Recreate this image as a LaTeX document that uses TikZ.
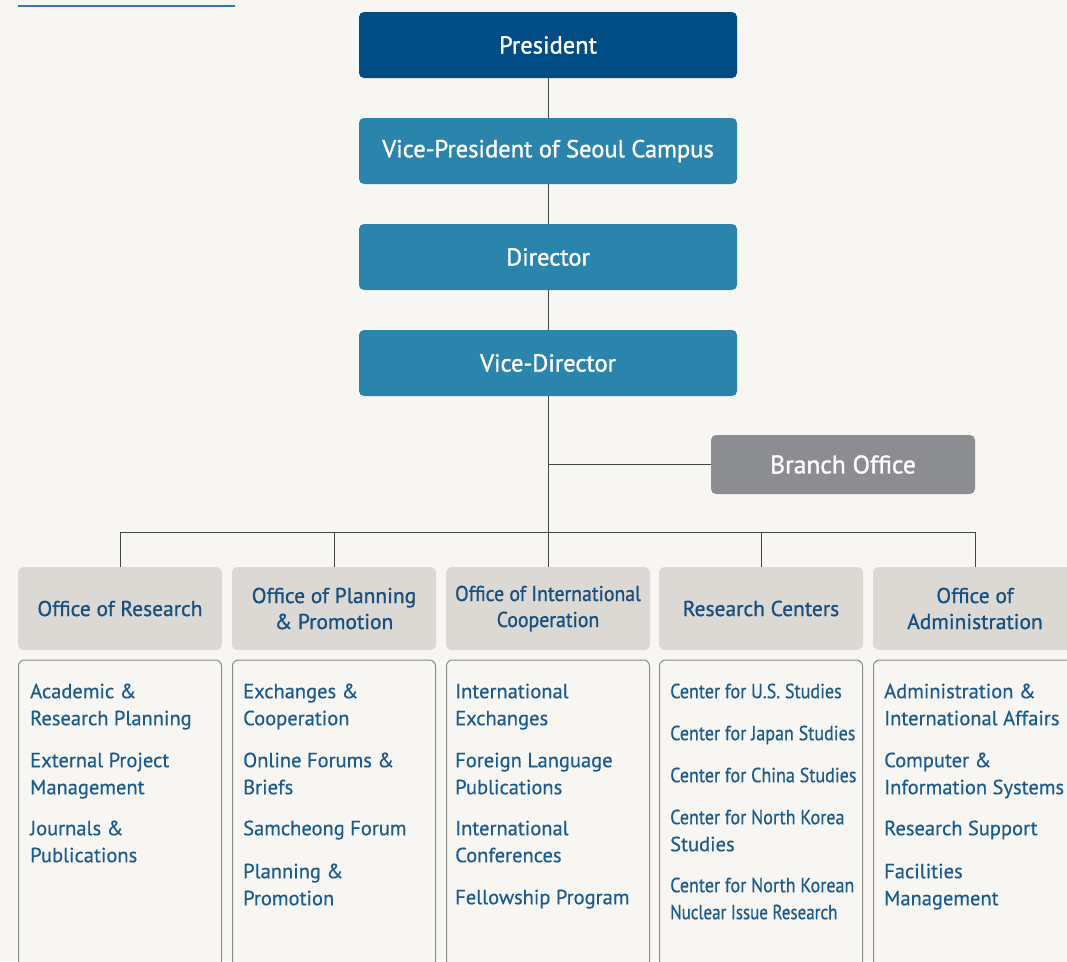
\documentclass[tikz,border=0pt]{standalone}
\usepackage{fontspec}
\setmainfont{PT Sans}
\newfontfamily\topfont[FakeBold=1.3]{PT Sans}
\newfontfamily\hdrfont[FakeBold=0.9]{PT Sans}
\newfontfamily\hdrcondfont[FakeBold=0.9,FakeStretch=0.92]{PT Sans}
\newfontfamily\listfont[FakeBold=0.4]{PT Sans}
\newfontfamily\condfont[FakeBold=0.4,FakeStretch=0.88]{PT Sans}
\newfontfamily\tightfont[FakeBold=0.4,FakeStretch=0.83]{PT Sans}
\definecolor{bg}{HTML}{F7F6F2}
\definecolor{presblue}{HTML}{004C84}
\definecolor{midblue}{HTML}{2B84AB}
\definecolor{branchgray}{HTML}{8C8D91}
\definecolor{hdrfill}{HTML}{DCD8D4}
\definecolor{hdrtext}{HTML}{17507F}
\definecolor{listtext}{HTML}{1A5A8C}
\definecolor{linecol}{HTML}{444444}
\definecolor{boxline}{HTML}{8A8A8A}
\definecolor{topline}{HTML}{2F77C0}
\tikzset{
  topbox/.style={rounded corners=5pt, minimum width=378pt, minimum height=66pt,
    text=white, inner sep=0pt, font=\topfont\fontsize{24.5}{28}\selectfont},
  branchbox/.style={rounded corners=5pt, minimum width=264pt, minimum height=59pt,
    fill=branchgray, text=white, inner sep=0pt, font=\topfont\fontsize{25.5}{28}\selectfont},
  hdrbox/.style={rounded corners=6pt, minimum width=204pt, minimum height=83pt,
    fill=hdrfill, text=hdrtext, inner sep=0pt, align=center,
    font=\hdrfont\fontsize{21.5}{26}\selectfont},
  listbox/.style={rounded corners=6pt, minimum width=203pt, minimum height=340pt,
    draw=boxline, line width=1pt, fill=bg, inner sep=0pt},
  itemtext/.style={anchor=north west, inner sep=0pt, align=left, text=listtext,
    font=\listfont\fontsize{20.5}{27}\selectfont},
  conn/.style={draw=linecol, line width=1pt}
}
\newcommand\li[4]{\node[itemtext] (#1) at (#2,#3-18.9) {\strut #4};}
\newcommand\lic[4]{\node[itemtext] (#1) at (#2,#3-18.9) {\strut\condfont #4};}
\begin{document}
\begin{tikzpicture}[x=1pt,y=-1pt]
\useasboundingbox (0,0) rectangle (1067,961);
\clip (0,0) rectangle (1067,961);
\fill[bg] (0,0) rectangle (1067,961);
\coordinate (tl1) at (18,6);
\coordinate (tl2) at (235,6);
\draw[topline, line width=2pt] (tl1) -- (tl2);

\node[topbox, fill=presblue] (pres) at (548,45) {President};
\node[topbox, fill=midblue] (vp) at (548,151) {Vice-President of Seoul Campus};
\node[topbox, fill=midblue] (dir) at (548,257) {Director};
\node[topbox, fill=midblue] (vdir) at (548,363) {Vice-Director};
\node[branchbox] (branch) at (843,464.5) {Branch Office};

\node[hdrbox] (h1) at (120,608.5) {Office of Research};
\node[hdrbox] (h2) at (334,608.5) {Office of Planning\\\& Promotion};
\node[hdrbox, font=\hdrcondfont\fontsize{21.5}{26}\selectfont] (h3) at (548,608.5) {Office of International\\Cooperation};
\node[hdrbox] (h4) at (761,608.5) {Research Centers};
\node[hdrbox] (h5) at (975,608.5) {Office of\\Administration};

\coordinate (bus) at (0,532);
\draw[conn] (pres) -- (vp);
\draw[conn] (vp) -- (dir);
\draw[conn] (dir) -- (vdir);
\draw[conn] (vdir) -- (h3);
\draw[conn] (vdir.south |- branch.west) -- (branch.west);
\draw[conn] (h1.north) -- (h1.north |- bus) -- (h5.north |- bus) -- (h5.north);
\draw[conn] (h2.north) -- (h2.north |- bus);
\draw[conn] (h4.north) -- (h4.north |- bus);

\node[listbox] (b1) at (120,830) {};
\node[listbox] (b2) at (334,830) {};
\node[listbox] (b3) at (548,830) {};
\node[listbox] (b4) at (761,830) {};
\node[listbox] (b5) at (975,830) {};

\li{a1}{30}{698}{Academic \&\\Research Planning}
\li{a2}{30}{767}{External Project\\Management}
\li{a3}{30}{835}{Journals \&\\Publications}

\li{p1}{243}{698}{Exchanges \&\\Cooperation}
\li{p2}{243}{767}{Online Forums \&\\Briefs}
\li{p3}{243}{835}{Samcheong Forum}
\li{p4}{243}{878}{Planning \&\\Promotion}

\li{c1}{455}{698}{International\\Exchanges}
\li{c2}{455}{767}{Foreign Language\\Publications}
\li{c3}{455}{835}{International\\Conferences}
\li{c4}{455}{904}{Fellowship Program}

\lic{r1}{670}{698}{Center for U.S. Studies}
\lic{r2}{670}{740}{Center for Japan Studies}
\lic{r3}{670}{782}{Center for China Studies}
\lic{r4}{670}{824}{Center for North Korea\\Studies}
\lic{r5}{670}{892}{Center for North Korean\\{\tightfont Nuclear Issue Research}}

\li{d1}{884}{698}{Administration \&\\International Affairs}
\li{d2}{884}{767}{Computer \&\\Information Systems}
\li{d3}{884}{835}{Research Support}
\li{d4}{884}{878}{Facilities\\Management}
\end{tikzpicture}
\end{document}
